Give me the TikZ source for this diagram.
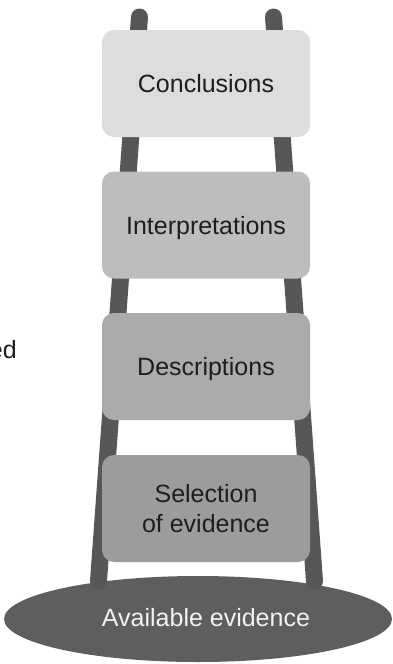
\documentclass[tikz,border=0pt]{standalone}
\usepackage{fontspec}
\setmainfont{Liberation Sans}
\usetikzlibrary{shapes.geometric}
\definecolor{railc}{HTML}{575757}
\definecolor{groundc}{HTML}{5E5E5E}
\definecolor{cA}{HTML}{DDDDDD}
\definecolor{cB}{HTML}{BDBDBD}
\definecolor{cC}{HTML}{ABABAB}
\definecolor{cD}{HTML}{9C9C9C}
\definecolor{txt}{HTML}{1E1E1E}
\definecolor{lighttxt}{HTML}{F2F2F2}
\begin{document}
\begin{tikzpicture}[x=1pt,y=-1pt,
  rail/.style={draw=railc, line width=17pt, line cap=round},
  rung/.style={draw=none, rounded corners=12pt, minimum width=208pt, minimum height=107pt,
    inner sep=0pt, font=\fontsize{25}{30}\selectfont, text=txt},
  oneline/.style={text height=18pt, text depth=0pt},
  lbl/.style={inner sep=0pt, font=\fontsize{25}{30}\selectfont}]
\useasboundingbox (0,0) rectangle (392,664);
\node[ellipse, fill=groundc, draw=none, minimum width=388pt, minimum height=86pt, inner sep=0pt] (ground) at (198,619) {};
\coordinate (lt) at (139.5,17);
\coordinate (lb) at (98.5,581);
\coordinate (rt) at (273.5,17);
\coordinate (rb) at (314.5,581);
\draw[rail] (lt) -- (lb);
\draw[rail] (rt) -- (rb);
\node[rung, oneline, fill=cA] (concl) at (206,83.5) {Conclusions};
\node[rung, oneline, fill=cB] (interp) at (206,225) {Interpretations};
\node[rung, oneline, fill=cC] (descr) at (206,366.5) {Descriptions};
\node[rung, fill=cD, align=center] (select) at (206,508.5) {Selection\\of evidence};
\node[lbl, oneline, text=lighttxt] (avail) at (206,617.5) {Available evidence};
\node[lbl, text=txt, anchor=base east] (cut) at (17,358) {ed};
\end{tikzpicture}
\end{document}
